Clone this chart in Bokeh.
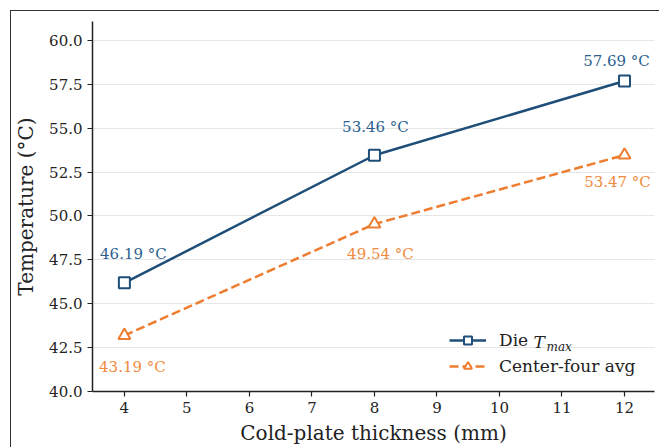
from bokeh.plotting import figure
from bokeh.models import (Range1d, Legend, LegendItem, Label, ColumnDataSource,
                          FixedTicker, PrintfTickFormatter)
from bokeh.core.properties import value
from bokeh.embed import file_html
from bokeh.resources import INLINE

# ---- data ----
thickness = [4, 8, 12]
die_tmax = [46.19, 53.46, 57.69]
center_four = [43.19, 49.54, 53.47]
die_labels = ["46.19 °C", "53.46 °C", "57.69 °C"]
center_labels = ["43.19 °C", "49.54 °C", "53.47 °C"]
x_ticks = [4, 5, 6, 7, 8, 9, 10, 11, 12]
y_ticks = [40.0, 42.5, 45.0, 47.5, 50.0, 52.5, 55.0, 57.5, 60.0]

# ---- styles ----
BLUE = "#1f4e79"
ORANGE = "#ed7d31"
BLUE_TXT = "#2c5f8f"
ORANGE_TXT = "#f08a3c"
FONT = "DejaVu Serif"
die_dx = [9, 1, -8]
die_dy = [-29, -28, -20]
cen_dx = [8, 6, -7]
cen_dy = [31, 30, 27]

p = figure(frame_width=562, frame_height=370,
           min_border_left=79, min_border_right=5, min_border_top=10, min_border_bottom=55,
           x_range=Range1d(3.49, 12.48), y_range=Range1d(40, 61.08),
           output_backend="svg", toolbar_location=None)
p.margin = (10, 0, 0, 10)
p.styles = {"border-left": "1px solid #333", "border-top": "1px solid #333"}
p.outline_line_color = None
p.background_fill_color = "white"
p.border_fill_color = "white"

src_die = ColumnDataSource(dict(x=thickness, y=die_tmax, t=die_labels, dx=die_dx, dy=die_dy))
src_cen = ColumnDataSource(dict(x=thickness, y=center_four, t=center_labels, dx=cen_dx, dy=cen_dy))

l1 = p.line("x", "y", source=src_die, line_color=BLUE, line_width=2.5)
m1 = p.scatter("x", "y", source=src_die, marker="square", size=11,
               line_color=BLUE, line_width=2, fill_color="white")
l2 = p.line("x", "y", source=src_cen, line_color=ORANGE, line_width=2.5, line_dash="9 4")
m2 = p.scatter("x", "y", source=src_cen, marker="triangle", size=12,
               line_color=ORANGE, line_width=2, fill_color="white")

p.text("x", "y", text="t", source=src_die, x_offset="dx", y_offset="dy",
       text_font=value(FONT), text_font_size="15px", text_color=BLUE_TXT,
       text_align="center", text_baseline="middle")
p.text("x", "y", text="t", source=src_cen, x_offset="dx", y_offset="dy",
       text_font=value(FONT), text_font_size="15px", text_color=ORANGE_TXT,
       text_align="center", text_baseline="middle")

# axes
p.xaxis.ticker = FixedTicker(ticks=x_ticks)
p.yaxis.ticker = FixedTicker(ticks=y_ticks)
p.yaxis.formatter = PrintfTickFormatter(format="%.1f")
p.xaxis.axis_label = "Cold-plate thickness (mm)"
p.yaxis.axis_label = "Temperature (°C)"
for ax in (p.xaxis, p.yaxis):
    ax.axis_label_text_font = FONT
    ax.axis_label_text_font_size = "20px"
    ax.axis_label_text_font_style = "normal"
    ax.axis_label_text_color = "#222222"
    ax.major_label_text_font = FONT
    ax.major_label_text_font_size = "15px"
    ax.major_label_text_color = "#222222"
    ax.axis_line_color = "#222222"
    ax.axis_line_width = 1.5
    ax.major_tick_line_color = "#222222"
    ax.major_tick_line_width = 1.2
    ax.major_tick_out = 5
    ax.major_tick_in = 0
    ax.minor_tick_line_color = None
p.xaxis.axis_label_standoff = 5
p.yaxis.axis_label_standoff = 8

p.xgrid.grid_line_color = None
p.ygrid.grid_line_color = "#e6e6e6"
p.ygrid.grid_line_width = 1

legend = Legend(items=[LegendItem(label="Die", renderers=[l1, m1]),
                       LegendItem(label="Center-four avg", renderers=[l2, m2])],
                location=(357, 15), glyph_width=37, glyph_height=20, label_height=20,
                spacing=6, padding=5, margin=0, label_standoff=13,
                label_text_font=FONT, label_text_font_size="17px",
                label_text_color="#222222", border_line_color=None,
                background_fill_alpha=0)
p.add_layout(legend)

# italic T with subscript "max" beside the "Die" legend label (frame-relative screen units)
p.add_layout(Label(x=441, y=50, x_units="screen", y_units="screen", text="T",
                   text_font=FONT, text_font_size="17px", text_font_style="italic",
                   text_color="#222222", text_baseline="middle"))
p.add_layout(Label(x=454, y=45, x_units="screen", y_units="screen", text="max",
                   text_font=FONT, text_font_size="12px", text_font_style="italic",
                   text_color="#222222", text_baseline="middle"))

open("out.html", "w").write(file_html(p, INLINE))
